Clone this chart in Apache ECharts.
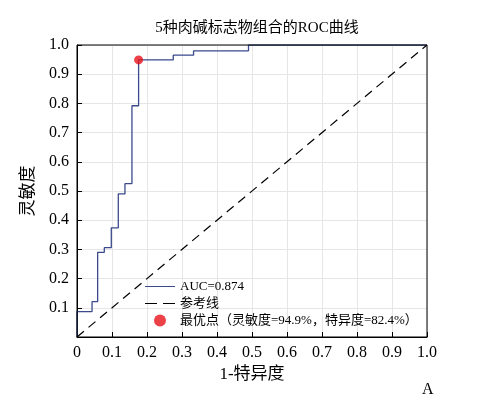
<!DOCTYPE html>
<html><head><meta charset="utf-8">
<script src="https://cdn.jsdelivr.net/npm/echarts@6/dist/echarts.min.js"></script>
<style>html,body{margin:0;background:#fff}#c{width:477px;height:403px}</style>
</head><body><div id="c"></div>
<script>
const fpr = [0, 0, 0.043, 0.043, 0.059, 0.059, 0.078, 0.078, 0.098, 0.098, 0.118, 0.118, 0.137, 0.137, 0.157, 0.157, 0.176, 0.176, 0.275, 0.275, 0.333, 0.333, 0.49, 0.49, 1.0];
const tpr = [0, 0.087, 0.087, 0.121, 0.121, 0.29, 0.29, 0.306, 0.306, 0.374, 0.374, 0.49, 0.49, 0.525, 0.525, 0.792, 0.792, 0.949, 0.949, 0.965, 0.965, 0.98, 0.98, 1.0, 1.0];
const bestPoint = [0.176, 0.949];
const refLine = [[0, 0], [1, 1]];
const FONT = '"Liberation Serif", "Noto Sans CJK SC", serif';

const chart = echarts.init(document.getElementById('c'));
const axisCommon = {
  min: 0, max: 1, interval: 0.1,
  axisLine: { show: true, lineStyle: { color: '#000', width: 1 } },
  axisTick: { inside: true, length: 5, lineStyle: { color: '#000' } },
  splitLine: { show: true, lineStyle: { color: '#e6e6e6' } },
  axisLabel: { color: '#000', fontFamily: FONT, fontSize: 16, formatter: v => (Math.round(v * 10) / 10).toFixed(v === 0 ? 0 : 1) },
  nameLocation: 'middle',
  nameTextStyle: { color: '#000', fontFamily: FONT, fontSize: 17 }
};
chart.setOption({
  animation: false,
  title: { text: '5种肉碱标志物组合的ROC曲线', left: 252, top: 16, textAlign: 'center',
    textStyle: { fontFamily: FONT, fontSize: 15, fontWeight: 'normal', color: '#000' } },
  graphic: [
    { type: 'rect', shape: { x: 77, y: 45, width: 350, height: 292 }, style: { fill: 'none', stroke: '#000', lineWidth: 1 }, z: 10 },
    { type: 'text', left: 422, top: 382, style: { text: 'A', font: '16px "Liberation Serif"', fill: '#000' } }
  ],
  grid: { left: 77, right: 50, top: 45, bottom: 66 },
  xAxis: Object.assign({}, axisCommon, { type: 'value', name: '1-特异度', nameGap: 28 }),
  yAxis: Object.assign({}, axisCommon, { type: 'value', name: '灵敏度', nameGap: 40,
    axisLabel: Object.assign({}, axisCommon.axisLabel, { formatter: v => v === 0 ? '' : v.toFixed(1) }) }),
  legend: {
    left: 140, top: 275, orient: 'vertical', itemGap: 4, itemWidth: 30, itemHeight: 12,
    textStyle: { fontFamily: FONT, fontSize: 13, color: '#000' },
    data: [
      { name: 'AUC=0.874', icon: 'path://M0,5L30,5L30,6L0,6Z' },
      { name: '参考线', icon: 'path://M0,5L12,5L12,6L0,6ZM18,5L30,5L30,6L18,6Z' },
      { name: '最优点（灵敏度=94.9%，特异度=82.4%）', icon: 'circle', itemStyle: { color: '#e8121a' } }
    ]
  },
  series: [
    { name: 'AUC=0.874', type: 'line', data: fpr.map((x, i) => [x, tpr[i]]), showSymbol: false,
      lineStyle: { color: '#3b4a8c', width: 1.3 }, itemStyle: { color: '#3b4a8c' } },
    { name: '参考线', type: 'line', data: refLine, showSymbol: false,
      lineStyle: { color: '#000', width: 1.2, type: [9, 6] }, itemStyle: { color: '#000' } },
    { name: '最优点（灵敏度=94.9%，特异度=82.4%）', type: 'scatter', data: [bestPoint], symbolSize: 9,
      itemStyle: { color: '#e8121a' }, z: 5 }
  ]
});
</script></body></html>
